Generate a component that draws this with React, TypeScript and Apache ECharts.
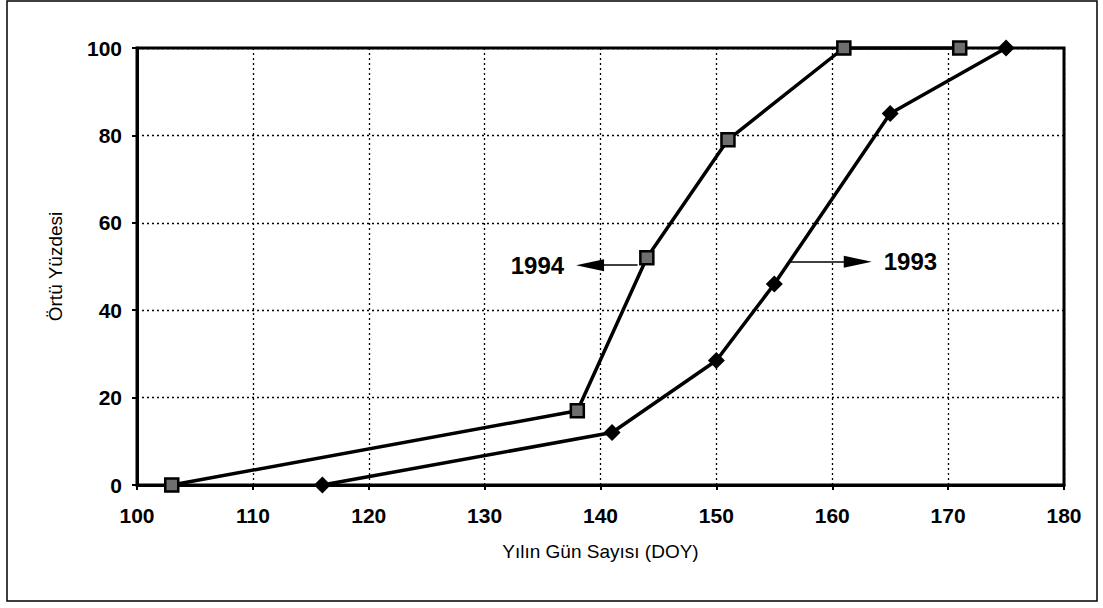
import React, { useEffect, useRef } from "react";
import * as echarts from "echarts";

const xTicks = [100, 110, 120, 130, 140, 150, 160, 170, 180];
const yTicks = [0, 20, 40, 60, 80, 100];

const doy1994 = [103, 138, 144, 151, 161, 171];
const cover1994 = [0, 17, 52, 79, 100, 100];

const doy1993 = [116, 141, 150, 155, 165, 175];
const cover1993 = [0, 12, 28.5, 46, 85, 100];

// annotation arrows: [startX, endX, y] in data units
const arrow1994 = [143.2, 139.1, 50.3];
const arrow1993 = [156.3, 162.2, 51.1];

const FONT = "'Liberation Sans', Arial, sans-serif";

export default function App() {
  const ref = useRef<HTMLDivElement>(null);
  useEffect(() => {
    if (!ref.current) return;
    const chart = echarts.init(ref.current, null, { renderer: "svg" });
    const pts = (xs: number[], ys: number[]) => xs.map((x, i) => [x, ys[i]]);
    const arrowLine = (a: number[], name: string) => ({
      silent: true,
      symbol: ["none", "triangle"],
      symbolSize: [12, 28],
      lineStyle: { color: "#000", width: 1.5, type: "solid" },
      itemStyle: { color: "#000" },
      label: {
        show: true,
        position: "end",
        formatter: name,
        fontSize: 24,
        fontWeight: "bold",
        fontFamily: FONT,
        color: "#000",
        distance: 26,
      },
      emphasis: { disabled: true },
      data: [[{ coord: [a[0], a[2]] }, { coord: [a[1], a[2]] }]],
    });
    chart.setOption({
      animation: false,
      backgroundColor: "#fff",
      textStyle: { fontFamily: FONT },
      graphic: [
        {
          type: "rect",
          shape: { x: 7, y: 1, width: 1090, height: 600 },
          style: { fill: "none", stroke: "#000", lineWidth: 1.5 },
          silent: true,
        },
      ],
      grid: {
        left: 137,
        right: 39,
        top: 48,
        bottom: 123,
        show: true,
        borderColor: "#000",
        borderWidth: 3,
      },
      xAxis: {
        type: "value",
        min: xTicks[0],
        max: xTicks[xTicks.length - 1],
        interval: 10,
        name: "Yılın Gün Sayısı (DOY)",
        nameLocation: "middle",
        nameGap: 57,
        nameTextStyle: { fontSize: 19, color: "#000", fontFamily: FONT },
        axisLine: { show: true, lineStyle: { color: "#000", width: 3 } },
        axisTick: { show: true, length: 5, lineStyle: { color: "#000", width: 2 } },
        axisLabel: { fontSize: 21, fontWeight: "bold", color: "#000", margin: 20, fontFamily: FONT },
        splitLine: { show: true, lineStyle: { color: "#000", type: [2, 3], width: 1.3 } },
      },
      yAxis: {
        type: "value",
        min: yTicks[0],
        max: yTicks[yTicks.length - 1],
        interval: 20,
        name: "Örtü Yüzdesi",
        nameLocation: "middle",
        nameGap: 72,
        nameTextStyle: { fontSize: 19, color: "#000", fontFamily: FONT, padding: [0, 0, 0, 0] },
        axisLine: { show: true, lineStyle: { color: "#000", width: 3 } },
        axisTick: { show: true, length: 5, lineStyle: { color: "#000", width: 2 } },
        axisLabel: { fontSize: 21, fontWeight: "bold", color: "#000", margin: 15, fontFamily: FONT },
        splitLine: { show: true, lineStyle: { color: "#000", type: [2, 3], width: 1.3 } },
      },
      series: [
        {
          name: "1994",
          type: "line",
          data: pts(doy1994, cover1994),
          symbol: "rect",
          symbolSize: 13,
          showAllSymbol: true,
          lineStyle: { color: "#000", width: 3.5 },
          itemStyle: { color: "#6e6e6e", borderColor: "#000", borderWidth: 2.5 },
          emphasis: { disabled: true },
          markLine: arrowLine(arrow1994, "1994"),
          z: 3,
        },
        {
          name: "1993",
          type: "line",
          data: pts(doy1993, cover1993),
          symbol: "diamond",
          symbolSize: 17,
          showAllSymbol: true,
          lineStyle: { color: "#000", width: 3.5 },
          itemStyle: { color: "#000" },
          emphasis: { disabled: true },
          markLine: arrowLine(arrow1993, "1993"),
          z: 3,
        },
      ],
    });
    return () => chart.dispose();
  }, []);
  return (
    <div
      ref={ref}
      style={{ position: "fixed", left: 0, top: 0, width: 1103, height: 608, background: "#fff" }}
    />
  );
}
